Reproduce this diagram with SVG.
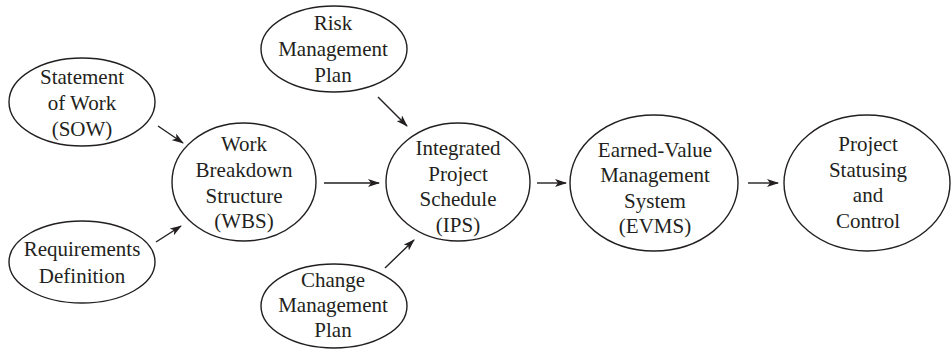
<svg xmlns="http://www.w3.org/2000/svg" width="951" height="349" viewBox="0 0 951 349">
<defs>
<style>
.n ellipse{fill:#fff;stroke:#231f20;stroke-width:1.4}
.n text{font-family:"Liberation Serif","Times New Roman",serif;font-size:21px;fill:#231f20;text-anchor:middle}
.c line{stroke:#231f20;stroke-width:1.4;fill:none;marker-end:url(#ah)}
</style>
<marker id="ah" viewBox="0 0 12 8" refX="11" refY="4" markerWidth="12" markerHeight="8" markerUnits="userSpaceOnUse" orient="auto">
<path d="M0,0 L12,4 L0,8 L3,4 z" fill="#231f20"/>
</marker>
</defs>
<rect width="951" height="349" fill="#fff"/>
<g class="c" id="connectors">
<line x1="158" y1="126" x2="183" y2="143"/>
<line x1="156" y1="242" x2="181" y2="226"/>
<line x1="324" y1="183" x2="379" y2="183"/>
<line x1="378" y1="97" x2="407" y2="126"/>
<line x1="385" y1="268" x2="414" y2="240"/>
<line x1="537" y1="183" x2="566" y2="183"/>
<line x1="748" y1="183" x2="778" y2="183"/>
</g>
<g class="n" id="sow">
<ellipse cx="82" cy="102" rx="73" ry="44"/>
<text x="82" y="84">Statement</text>
<text x="82" y="110">of Work</text>
<text x="82" y="136">(SOW)</text>
</g>
<g class="n" id="req">
<ellipse cx="82" cy="262" rx="73" ry="41"/>
<text x="82" y="256">Requirements</text>
<text x="82" y="283">Definition</text>
</g>
<g class="n" id="wbs">
<ellipse cx="244" cy="182" rx="72" ry="59"/>
<text x="244" y="151">Work</text>
<text x="244" y="177">Breakdown</text>
<text x="244" y="202.5">Structure</text>
<text x="244" y="228">(WBS)</text>
</g>
<g class="n" id="risk">
<ellipse cx="334" cy="49" rx="73" ry="43"/>
<text x="333" y="30">Risk</text>
<text x="333" y="56">Management</text>
<text x="333" y="82">Plan</text>
</g>
<g class="n" id="change">
<ellipse cx="334" cy="306" rx="73" ry="42"/>
<text x="333" y="287">Change</text>
<text x="333" y="312">Management</text>
<text x="333" y="337">Plan</text>
</g>
<g class="n" id="ips">
<ellipse cx="458" cy="182" rx="72" ry="59"/>
<text x="458" y="155">Integrated</text>
<text x="458" y="180.5">Project</text>
<text x="458" y="206">Schedule</text>
<text x="458" y="231.5">(IPS)</text>
</g>
<g class="n" id="evms">
<ellipse cx="654" cy="183" rx="84" ry="68"/>
<text x="655" y="157">Earned-Value</text>
<text x="655" y="182">Management</text>
<text x="655" y="208">System</text>
<text x="655" y="233">(EVMS)</text>
</g>
<g class="n" id="psc">
<ellipse cx="867" cy="183" rx="83" ry="68"/>
<text x="868" y="151">Project</text>
<text x="868" y="177">Statusing</text>
<text x="868" y="202">and</text>
<text x="868" y="228">Control</text>
</g>
</svg>
